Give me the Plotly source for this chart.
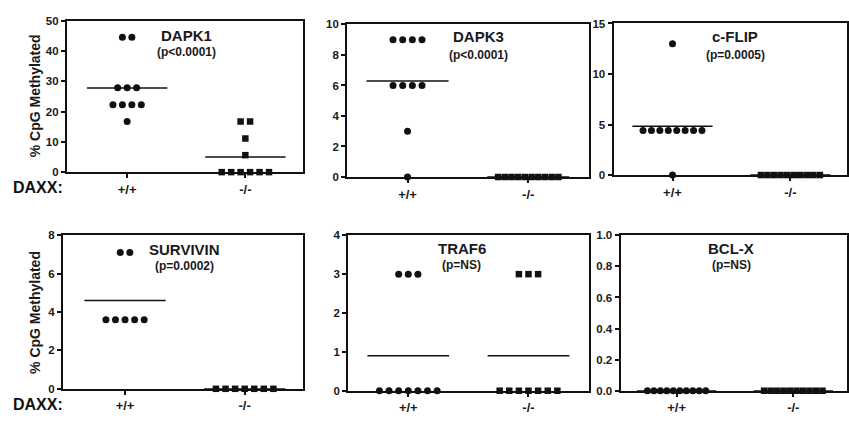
import plotly.graph_objects as go
import numpy as np

W, H = 849, 422

# ---------------- data ----------------
genes = ["DAPK1", "DAPK3", "c-FLIP", "SURVIVIN", "TRAF6", "BCL-X"]
pvals = ["(p<0.0001)", "(p<0.0001)", "(p=0.0005)", "(p=0.0002)", "(p=NS)", "(p=NS)"]
groups = ["+/+", "-/-"]

dapk1_wt = [44.5, 44.5, 27.8, 27.8, 27.8, 22.2, 22.2, 22.2, 22.2, 16.7]
dapk1_ko = [16.7, 16.7, 11.1, 5.6, 0, 0, 0, 0, 0, 0]
dapk3_wt = [9, 9, 9, 9, 6, 6, 6, 6, 3, 0]
dapk3_ko = [0, 0, 0, 0, 0, 0, 0, 0, 0, 0]
cflip_wt = [13, 4.4, 4.4, 4.4, 4.4, 4.4, 4.4, 4.4, 4.4, 0]
cflip_ko = [0, 0, 0, 0, 0, 0, 0, 0, 0, 0]
survivin_wt = [7.1, 7.1, 3.6, 3.6, 3.6, 3.6, 3.6]
survivin_ko = [0, 0, 0, 0, 0, 0, 0]
traf6_wt = [3, 3, 3, 0, 0, 0, 0, 0, 0, 0]
traf6_ko = [3, 3, 3, 0, 0, 0, 0, 0, 0, 0]
bclx_wt = [0, 0, 0, 0, 0, 0, 0, 0, 0, 0]
bclx_ko = [0, 0, 0, 0, 0, 0, 0, 0, 0, 0]

wt_sets = [dapk1_wt, dapk3_wt, cflip_wt, survivin_wt, traf6_wt, bclx_wt]
ko_sets = [dapk1_ko, dapk3_ko, cflip_ko, survivin_ko, traf6_ko, bclx_ko]

y_max = [50, 10, 15, 8, 4, 1.0]
y_dtick = [10, 2, 5, 2, 1, 0.2]
y_fmt = ["d", "d", "d", "d", "d", ".1f"]

# ---------------- layout geometry (pixels) ----------------
# (left, right, top, bottom) of each plotting area
boxes = [
    (67, 304, 15, 171),
    (348, 590, 19, 176),
    (615, 849, 18, 174),
    (63, 304, 236, 394),
    (349, 590, 236, 396),
    (622, 849, 236, 396),
]
xranges = [[0.49, 2.49], [0.5, 2.5], [0.5, 2.48], [0.48, 2.49], [0.5, 2.5], [0.52, 2.46]]
title_pos = [(187, 30, 47), (480, 31, 50), (737, 31, 50), (185, 251, 268), (463, 250, 267), (733, 250, 267)]

INK = "#111111"
FONT = "Liberation Sans, Arial, sans-serif"


def px_x(x):
    return x / W


def px_y(y):
    return 1 - y / H


def spread(values):
    """horizontal jitter positions for equal values (scatter-dot style)"""
    vals = np.array(values, dtype=float)
    offs = np.zeros(len(vals))
    for v in np.unique(vals):
        idx = np.where(vals == v)[0]
        n = len(idx)
        if n > 1:
            sp = min(0.08, 0.5 / (n - 1))
            offs[idx] = (np.arange(n) - (n - 1) / 2) * sp
    return offs


fig = go.Figure()

for i in range(6):
    xa = "x" if i == 0 else f"x{i+1}"
    ya = "y" if i == 0 else f"y{i+1}"
    for g, (vals, sym) in enumerate([(wt_sets[i], "circle"), (ko_sets[i], "square")]):
        c = g + 1
        xs = c + spread(vals)
        fig.add_trace(go.Scatter(
            x=xs, y=vals, mode="markers", xaxis=xa, yaxis=ya,
            marker=dict(symbol=sym, size=7 if sym == "circle" else 6.5, color=INK, line=dict(width=0)),
            cliponaxis=False, showlegend=False, hoverinfo="y"))
        m = float(np.mean(vals))
        fig.add_trace(go.Scatter(
            x=[c - 0.34, c + 0.34], y=[m, m], mode="lines", xaxis=xa, yaxis=ya,
            line=dict(color=INK, width=1.5), cliponaxis=False, showlegend=False, hoverinfo="skip"))

    l, r, t, b = boxes[i]
    key_x = "xaxis" if i == 0 else f"xaxis{i+1}"
    key_y = "yaxis" if i == 0 else f"yaxis{i+1}"
    fig.layout[key_x] = dict(
        domain=[px_x(l), min(px_x(r), 1.0)], anchor=ya, range=xranges[i],
        tickvals=[1, 2], ticktext=groups, ticks="outside", ticklen=4, tickwidth=1.5,
        tickcolor=INK, showline=True, linecolor=INK, linewidth=2, mirror=True,
        showgrid=False, zeroline=False, fixedrange=True,
        tickfont=dict(family=FONT, size=13, color="#1a1a1a", weight="bold"))
    fig.layout[key_y] = dict(
        domain=[px_y(b), px_y(t)], anchor=xa, range=[0, y_max[i]],
        dtick=y_dtick[i], tick0=0, tickformat=y_fmt[i], ticks="outside", ticklen=4,
        tickwidth=1.5, tickcolor=INK, showline=True, linecolor=INK, linewidth=2,
        mirror=True, showgrid=False, zeroline=False, fixedrange=True,
        tickfont=dict(family=FONT, size=11.5, color="#1a1a1a", weight="bold"))

    tx, ty1, ty2 = title_pos[i]
    fig.add_annotation(x=px_x(tx), y=px_y(ty1), xref="paper", yref="paper",
                       text=genes[i], showarrow=False, xanchor="center", yanchor="middle",
                       font=dict(family=FONT, size=15, color="#1a1a1a", weight="bold"))
    fig.add_annotation(x=px_x(tx), y=px_y(ty2), xref="paper", yref="paper",
                       text=pvals[i], showarrow=False, xanchor="center", yanchor="middle",
                       font=dict(family=FONT, size=12, color="#1a1a1a", weight="bold"))

# row labels
for yy in [187, 410]:
    fig.add_annotation(x=px_x(11), y=px_y(yy), xref="paper", yref="paper", text="DAXX:",
                       showarrow=False, xanchor="left", yanchor="middle",
                       font=dict(family=FONT, size=16, color="#111111", weight="bold"))
for yy in [92, 315]:
    fig.add_annotation(x=px_x(35), y=px_y(yy), xref="paper", yref="paper",
                       text="% CpG Methylated", textangle=-90, showarrow=False,
                       xanchor="center", yanchor="middle",
                       font=dict(family=FONT, size=14, color="#1a1a1a", weight="bold"))

fig.update_layout(width=W, height=H, margin=dict(l=0, r=0, t=0, b=0),
                  paper_bgcolor="white", plot_bgcolor="white", showlegend=False)

fig.write_html("out.html", config={"displayModeBar": False},
               post_script="document.body.style.margin='0';")
